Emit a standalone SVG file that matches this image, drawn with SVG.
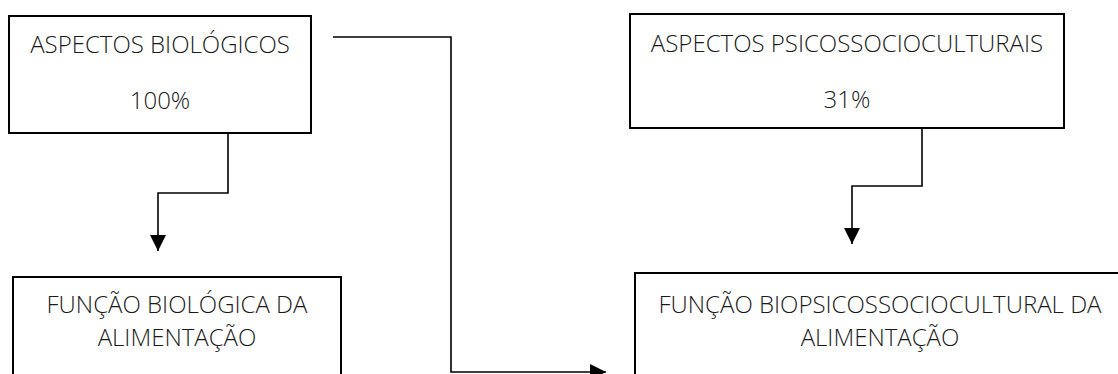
<svg xmlns="http://www.w3.org/2000/svg" width="1118" height="374" viewBox="0 0 1118 374">
<defs>
<style>
.box{fill:#fff;stroke:#000;stroke-width:2}
.t{font-family:"Open Sans","DejaVu Sans",sans-serif;font-weight:300;font-size:24px;fill:#1a1a1a;text-anchor:middle}
.c{fill:none;stroke:#000;stroke-width:1.6}
</style>
<marker id="ah" markerUnits="userSpaceOnUse" markerWidth="16" markerHeight="16" viewBox="0 0 16 16" refX="16" refY="8" orient="auto">
<path d="M0,0 L16,8 L0,16 Z" fill="#000"/>
</marker>
</defs>
<rect width="1118" height="374" fill="#fff"/>
<g id="n1">
<rect class="box" x="9" y="16" width="302" height="117"/>
<text class="t" x="160" y="53">ASPECTOS BIOLÓGICOS</text>
<text class="t" x="160" y="109">100%</text>
</g>
<g id="n2">
<rect class="box" x="630" y="14" width="434" height="114"/>
<text class="t" x="847" y="52">ASPECTOS PSICOSSOCIOCULTURAIS</text>
<text class="t" x="847" y="108">31%</text>
</g>
<g id="n3">
<rect class="box" x="13" y="277" width="328" height="130"/>
<text class="t" x="177" y="313">FUNÇÃO BIOLÓGICA DA</text>
<text class="t" x="177" y="346">ALIMENTAÇÃO</text>
</g>
<g id="n4">
<rect class="box" x="635" y="273" width="500" height="130"/>
<text class="t" x="880" y="313">FUNÇÃO BIOPSICOSSOCIOCULTURAL DA</text>
<text class="t" x="880" y="346">ALIMENTAÇÃO</text>
</g>
<g id="connectors">
<path class="c" d="M228,133 V193 H158 V251" marker-end="url(#ah)"/>
<path class="c" d="M333,37 H451 V372 H606" marker-end="url(#ah)"/>
<path class="c" d="M922,128 V186 H852 V244" marker-end="url(#ah)"/>
</g>
</svg>
